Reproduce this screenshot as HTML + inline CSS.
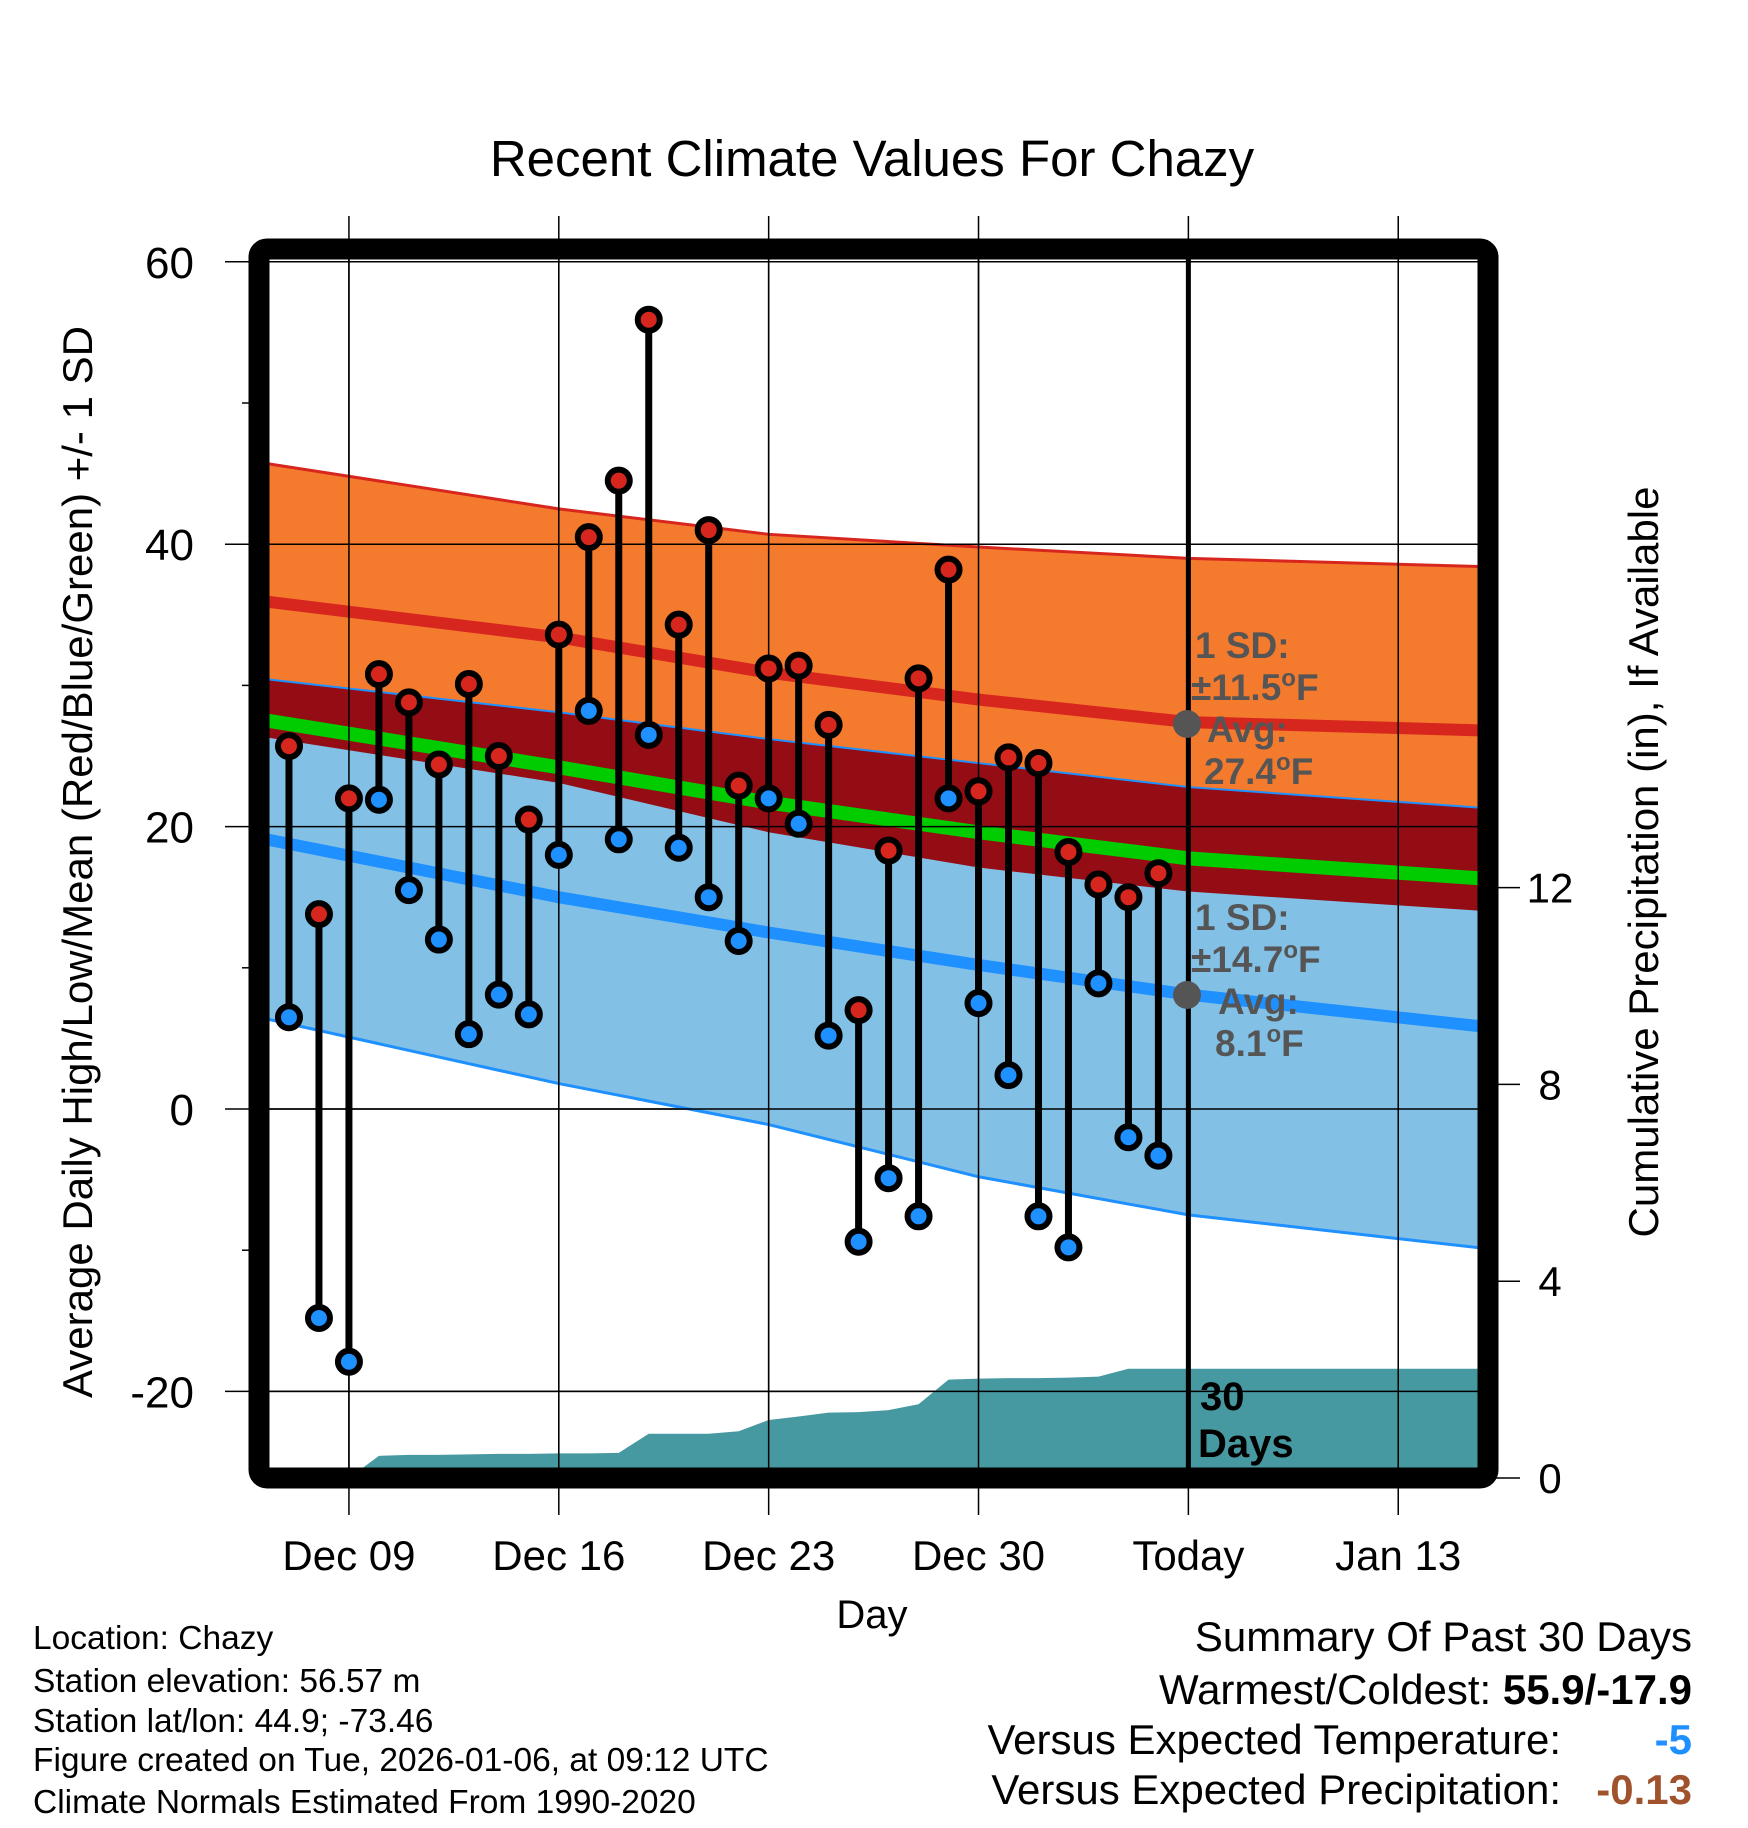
<!DOCTYPE html>
<html><head><meta charset="utf-8"><style>
html,body{margin:0;padding:0;background:#fff;}
svg{display:block;font-family:"Liberation Sans",Arial,sans-serif;}
</style></head><body>
<svg id="chart" width="1748" height="1828" viewBox="0 0 1748 1828" xmlns="http://www.w3.org/2000/svg">
<rect width="1748" height="1828" fill="#fff"/>
<text x="872" y="176" font-size="51" text-anchor="middle">Recent Climate Values For Chazy</text>
<g id="grid"></g>
<defs><clipPath id="plotclip"><rect x="259" y="249" width="1229" height="1229"/></clipPath></defs>
<g id="bands" clip-path="url(#plotclip)"></g>
<g id="precip" clip-path="url(#plotclip)"></g>
<g id="gridover"></g>
<g id="marks"></g>
<rect x="259" y="249" width="1229" height="1229" rx="8" fill="none" stroke="#000" stroke-width="21"/>
<g id="axes"></g>
<g font-weight="bold" fill="#555" font-size="37">
<text x="1195" y="658">1 SD:</text>
<text x="1191" y="700">±11.5<tspan font-size="24" dy="-14">o</tspan><tspan dy="14">F</tspan></text>
<text x="1207" y="742">Avg:</text>
<text x="1204" y="784">27.4<tspan font-size="24" dy="-14">o</tspan><tspan dy="14">F</tspan></text>
<text x="1195" y="930">1 SD:</text>
<text x="1191" y="972">±14.7<tspan font-size="24" dy="-14">o</tspan><tspan dy="14">F</tspan></text>
<text x="1218" y="1014">Avg:</text>
<text x="1215" y="1056">8.1<tspan font-size="24" dy="-14">o</tspan><tspan dy="14">F</tspan></text>
</g>
<circle cx="1187" cy="724" r="14" fill="#555"/>
<circle cx="1187" cy="995" r="14" fill="#555"/>
<text x="1200" y="1410" font-size="40" font-weight="bold">30</text>
<text x="1198" y="1457" font-size="40" font-weight="bold">Days</text>
<text transform="translate(92,862) rotate(-90)" font-size="42" text-anchor="middle">Average Daily High/Low/Mean (Red/Blue/Green) +/- 1 SD</text>
<text transform="translate(1658,862) rotate(-90)" font-size="42" text-anchor="middle">Cumulative Precipitation (in), If Available</text>
<text x="872" y="1628" font-size="40" text-anchor="middle">Day</text>
<g font-size="33.5">
<text x="33" y="1649">Location: Chazy</text>
<text x="33" y="1692">Station elevation: 56.57 m</text>
<text x="33" y="1732">Station lat/lon: 44.9; -73.46</text>
<text x="33" y="1771">Figure created on Tue, 2026-01-06, at 09:12 UTC</text>
<text x="33" y="1813">Climate Normals Estimated From 1990-2020</text>
</g>
<g font-size="42">
<text x="1692" y="1651" text-anchor="end">Summary Of Past 30 Days</text>
<text x="1692" y="1704" text-anchor="end">Warmest/Coldest: <tspan font-weight="bold">55.9/-17.9</tspan></text>
<text x="1561" y="1754" text-anchor="end">Versus Expected Temperature:</text>
<text x="1692" y="1754" text-anchor="end" font-weight="bold" fill="#1E90FF">-5</text>
<text x="1561" y="1804" text-anchor="end">Versus Expected Precipitation:</text>
<text x="1692" y="1804" text-anchor="end" font-weight="bold" fill="#A0522D">-0.13</text>
</g>
</svg>
<script>
const highs=[25.7,13.8,22,30.8,28.8,24.4,30.1,25,20.5,33.6,40.5,44.5,55.9,34.3,41,22.9,31.2,31.4,27.2,7,18.3,30.5,38.2,22.5,24.9,24.5,18.2,15.9,15,16.7];
const lows=[6.5,-14.8,-17.9,21.9,15.5,12,5.3,8.1,6.7,18,28.2,19.1,26.5,18.5,15,11.9,22,20.2,5.2,-9.4,-4.9,-7.6,22,7.5,2.4,-7.6,-9.8,8.9,-2,-3.3];
const normDays=[0,10,17,24,31,41];
const highUpper=[45.8,42.5,40.7,39.8,39,38.4];
const highMean=[36,33.4,30.9,29,27.4,26.8];
const highLower=[26.4,23.1,19.6,17.1,15.4,14];
const lowUpper=[30.5,28.1,26.2,24.5,22.8,21.3];
const lowMean=[19.2,15,12.5,10.2,8.1,5.8];
const lowLower=[6.5,1.8,-1.1,-4.8,-7.5,-9.9];
const precipStartDay=3;
const precip=[0,0.45,0.47,0.47,0.48,0.49,0.49,0.5,0.5,0.51,0.9,0.9,0.9,0.95,1.18,1.25,1.33,1.34,1.38,1.5,2.0,2.02,2.03,2.03,2.04,2.06,2.22,2.22];
const xTickLabels=["Dec 09","Dec 16","Dec 23","Dec 30","Today","Jan 13"];
const xTickDays=[3,10,17,24,31,38];
const yTicks=[60,40,20,0,-20];
const yMinor=[50,30,10,-10];
const pTicks=[0,4,8,12];

const NS="http://www.w3.org/2000/svg";
const x=d=>259+d*29.98;
const yT=v=>1109-v*14.12;
const yP=p=>1478-p*49.2;
function mk(tag,parent,attrs){const e=document.createElementNS(NS,tag);for(const k in attrs)e.setAttribute(k,attrs[k]);parent.appendChild(e);return e;}
const G=id=>document.getElementById(id);
const grid=G('grid'),bands=G('bands'),precipG=G('precip'),gridover=G('gridover'),marks=G('marks'),axes=G('axes');

xTickDays.forEach((d,i)=>{
  const l=mk('line',grid,{x1:x(d),x2:x(d),y1:216,y2:1515,stroke:'#000','stroke-width':1.5});
  
  
  const t=mk('text',axes,{x:x(d),y:1570,'font-size':42,'text-anchor':'middle'});
  t.textContent=xTickLabels[i];
  
  
});
yTicks.forEach(v=>{
  const l=mk('line',grid,{x1:225,x2:1488,y1:yT(v),y2:yT(v),stroke:'#000','stroke-width':1.5});
  
  
  const t=mk('text',axes,{x:194,y:yT(v)+16,'font-size':44,'text-anchor':'end'});
  t.textContent=v;
  
  
});
yMinor.forEach(v=>{
  const l=mk('line',axes,{x1:242,x2:250,y1:yT(v),y2:yT(v),stroke:'#000','stroke-width':1.5});
  
  
});
pTicks.forEach(p=>{
  const l=mk('line',axes,{x1:1496,x2:1520,y1:yP(p),y2:yP(p),stroke:'#000','stroke-width':1.5});
  
  
  const t=mk('text',axes,{x:1550,y:yP(p)+15,'font-size':42,'text-anchor':'middle'});
  t.textContent=p;
  
  
});

const pts=(arr,sc)=>normDays.map((d,i)=>x(d)+','+sc(arr[i]));
const band=(up,lo)=>pts(up,yT).concat(pts(lo,yT).reverse()).join(' ');
let e;
e=mk('polygon',bands,{points:band(highUpper,highLower),fill:'#F47A2E'});


e=mk('polygon',bands,{points:band(lowUpper,lowLower),fill:'#82C0E6'});


e=mk('polygon',bands,{points:band(lowUpper,highLower),fill:'#940C14'});


const meanVals=highMean.map((h,i)=>(h+lowMean[i])/2);
e=mk('polyline',bands,{points:pts(meanVals,yT).join(' '),fill:'none',stroke:'#00CC00','stroke-width':14});


e=mk('polyline',bands,{points:pts(highMean,yT).join(' '),fill:'none',stroke:'#D7261E','stroke-width':12});


e=mk('polyline',bands,{points:pts(lowMean,yT).join(' '),fill:'none',stroke:'#1E90FF','stroke-width':12});


e=mk('polyline',bands,{points:pts(highUpper,yT).join(' '),fill:'none',stroke:'#D7261E','stroke-width':3});


e=mk('polyline',bands,{points:pts(lowUpper,yT).join(' '),fill:'none',stroke:'#1E90FF','stroke-width':2});


e=mk('polyline',bands,{points:pts(lowLower,yT).join(' '),fill:'none',stroke:'#1E90FF','stroke-width':3});



let pp=precip.map((p,i)=>x(precipStartDay+i)+','+yP(p));
pp.push(x(41)+','+yP(precip[precip.length-1]));
pp.push(x(41)+','+yP(0));
pp.push(x(precipStartDay)+','+yP(0));
e=mk('polygon',precipG,{points:pp.join(' '),fill:'#4799A1'});



xTickDays.forEach(d=>{
  const l=mk('line',gridover,{x1:x(d),x2:x(d),y1:249,y2:1478,stroke:'#000','stroke-width':1.5});
  
  
});
yTicks.forEach(v=>{
  const l=mk('line',gridover,{x1:259,x2:1488,y1:yT(v),y2:yT(v),stroke:'#000','stroke-width':1.5});
  
  
});
e=mk('line',gridover,{x1:x(31),x2:x(31),y1:249,y2:1478,stroke:'#000','stroke-width':5});



highs.forEach((h,i)=>{
  const d=i+1,lo=lows[i];
  const s=mk('line',marks,{x1:x(d),x2:x(d),y1:yT(h),y2:yT(lo),stroke:'#000','stroke-width':7});
  
  
  const ch=mk('circle',marks,{cx:x(d),cy:yT(h),r:11,fill:'#D7261E',stroke:'#000','stroke-width':6});
  
  
  const cl=mk('circle',marks,{cx:x(d),cy:yT(lo),r:11,fill:'#1E90FF',stroke:'#000','stroke-width':6});
  
  
});
</script>
</body></html>
